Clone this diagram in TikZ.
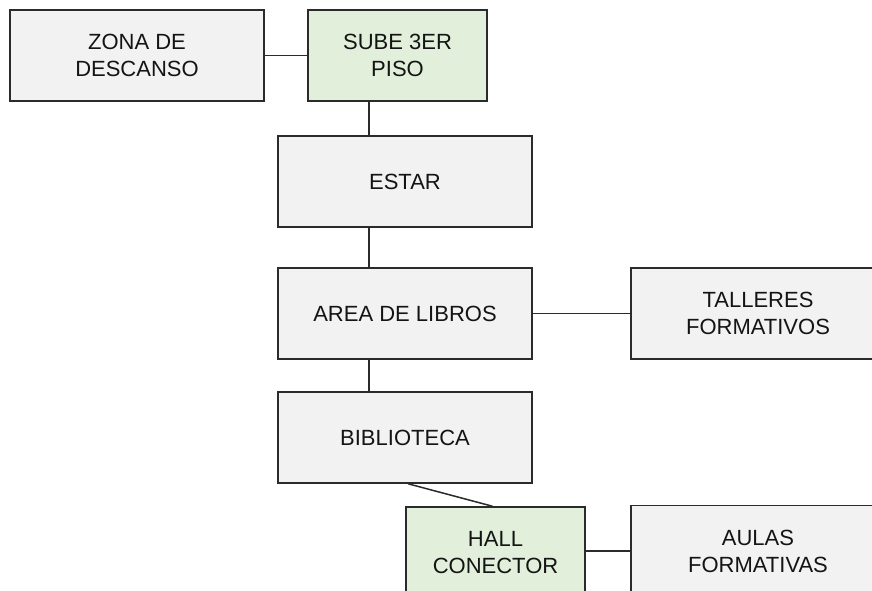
\documentclass[tikz,border=0pt]{standalone}
\usepackage{fontspec}
\setmainfont{Liberation Sans}
\definecolor{boxgrey}{HTML}{F2F2F2}
\definecolor{boxgreen}{HTML}{E2EFDA}
\definecolor{edge}{HTML}{2B2B2B}
\definecolor{txt}{HTML}{141414}
\begin{document}
\begin{tikzpicture}[x=1pt,y=-1pt,
  box/.style={draw=edge, line width=1.5pt, fill=boxgrey, rectangle, inner sep=0pt,
    minimum height=91pt, align=center, text=txt,
    font=\fontsize{22}{27}\selectfont},
  wide/.style={box, minimum width=254pt},
  narrow/.style={box, minimum width=179pt, fill=boxgreen},
  link/.style={draw=edge, line width=1.5pt}]
\useasboundingbox (0,0) rectangle (872,591);
\clip (0,0) rectangle (872,591);
\node[wide]   (zona)     at (137,55.5)  {ZONA DE\\DESCANSO};
\node[narrow] (sube)     at (397.5,55.5) {SUBE 3ER\\PISO};
\node[wide]   (estar)    at (405,181.5) {ESTAR};
\node[wide]   (area)     at (405,313.5) {AREA DE LIBROS};
\node[wide]   (talleres) at (758,313.5) {TALLERES\\FORMATIVOS};
\node[wide]   (biblio)   at (405,437.5) {BIBLIOTECA};
\node[narrow] (hall)     at (495.5,552.5) {HALL\\CONECTOR};
\node[wide]   (aulas)    at (758,551)   {AULAS\\FORMATIVAS};
\coordinate (vx) at (369,0);
\draw[link] (zona.east) -- (sube.west);
\draw[link] (sube.south -| vx) -- (estar.north -| vx);
\draw[link] (estar.south -| vx) -- (area.north -| vx);
\draw[link] (area.east) -- (talleres.west);
\draw[link] (area.south -| vx) -- (biblio.north -| vx);
\draw[link] ([xshift=3pt]biblio.south) -- ([xshift=-3pt]hall.north);
\draw[link] (aulas.west -| hall.east) -- (aulas.west);
\end{tikzpicture}
\end{document}
